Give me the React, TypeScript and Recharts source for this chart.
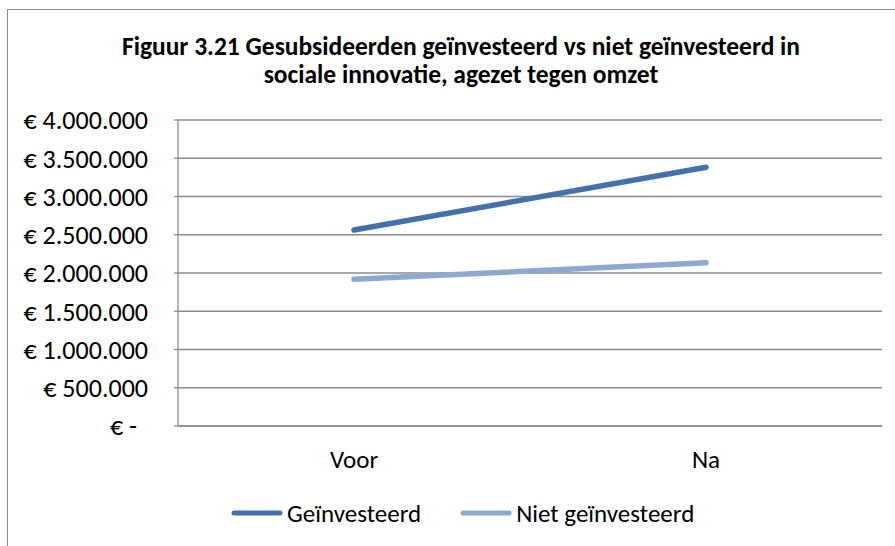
import React from "react"
import { CartesianGrid, Line, LineChart, XAxis, YAxis } from "recharts"

const categories = ["Voor", "Na"]
const geinvesteerd = [2562000, 3382000]
const nietGeinvesteerd = [1918000, 2135000]
const yTicks = [0, 500000, 1000000, 1500000, 2000000, 2500000, 3000000, 3500000, 4000000]

const data = categories.map((name, i) => ({
  name,
  geinvesteerd: geinvesteerd[i],
  nietGeinvesteerd: nietGeinvesteerd[i],
}))

const series = [
  { key: "geinvesteerd", name: "Geïnvesteerd", color: "#4471a8" },
  { key: "nietGeinvesteerd", name: "Niet geïnvesteerd", color: "#8fa8cf" },
]

const FONT = "Carlito, Calibri, 'Liberation Sans Narrow', 'Open Sans', sans-serif"
const GRID = "#8c8c8c"

const formatEuro = (v: number) =>
  v === 0 ? "€ -" : "€ " + v.toLocaleString("de-DE")

const YTick = (props: any) => {
  const { x, y, payload } = props
  const zero = payload.value === 0
  return (
    <text x={x - (zero ? 11 : 0)} y={y} dy="0.36em" textAnchor="end" fill="#000" fontSize={26} fontFamily={FONT}>
      {formatEuro(payload.value)}
    </text>
  )
}

export default function App() {
  return (
    <div style={{ position: "fixed", left: 0, top: 0, width: 895, height: 546, overflow: "hidden", background: "#fff" }}>
      <div
        style={{
          position: "absolute",
          left: 7,
          top: 9,
          width: 900,
          height: 560,
          border: "1px solid #8c8c8c",
          boxSizing: "border-box",
        }}
      />
      <div
        style={{
          position: "absolute",
          left: 0,
          top: 33,
          width: 922,
          textAlign: "center",
          fontFamily: FONT,
          fontWeight: "bold",
          fontSize: 25.5,
          lineHeight: "28px",
        }}
      >
        Figuur 3.21 Gesubsideerden geïnvesteerd vs niet geïnvesteerd in
        <br />
        sociale innovatie, agezet tegen omzet
      </div>
      <div style={{ position: "absolute", left: 0, top: 0 }}>
        <LineChart width={895} height={546} data={data} margin={{ top: 120, right: 13, bottom: 0, left: 0 }}>
          <CartesianGrid vertical={false} stroke={GRID} strokeWidth={1.3} />
          <XAxis
            dataKey="name"
            axisLine={{ stroke: GRID, strokeWidth: 1.3 }}
            tickLine={false}
            tickMargin={18}
            height={120}
            padding={{ left: 176, right: 176 }}
            tick={{ fill: "#000", fontSize: 25, fontFamily: FONT }}
          />
          <YAxis
            domain={[0, 4000000]}
            ticks={yTicks}
            interval={0}
            width={178}
            axisLine={{ stroke: GRID, strokeWidth: 1.3 }}
            tickLine={{ stroke: GRID, strokeWidth: 1.3 }}
            tickSize={4}
            tickMargin={26}
            tick={<YTick />}
          />
          {series.map((s) => (
            <Line
              key={s.key}
              name={s.name}
              dataKey={s.key}
              stroke={s.color}
              strokeWidth={5.5}
              strokeLinecap="round"
              dot={false}
              isAnimationActive={false}
            />
          ))}
        </LineChart>
      </div>
      <div
        style={{
          position: "absolute",
          left: 230,
          top: 498,
          height: 30,
          display: "flex",
          alignItems: "center",
          gap: 38,
          fontFamily: FONT,
          fontSize: 25,
        }}
      >
        {series.map((s) => (
          <div key={s.key} style={{ display: "flex", alignItems: "center" }}>
            <svg width={54} height={8} style={{ marginRight: 3 }}>
              <line x1={4} y1={4} x2={50} y2={4} stroke={s.color} strokeWidth={5} strokeLinecap="round" />
            </svg>
            <span>{s.name}</span>
          </div>
        ))}
      </div>
    </div>
  )
}
